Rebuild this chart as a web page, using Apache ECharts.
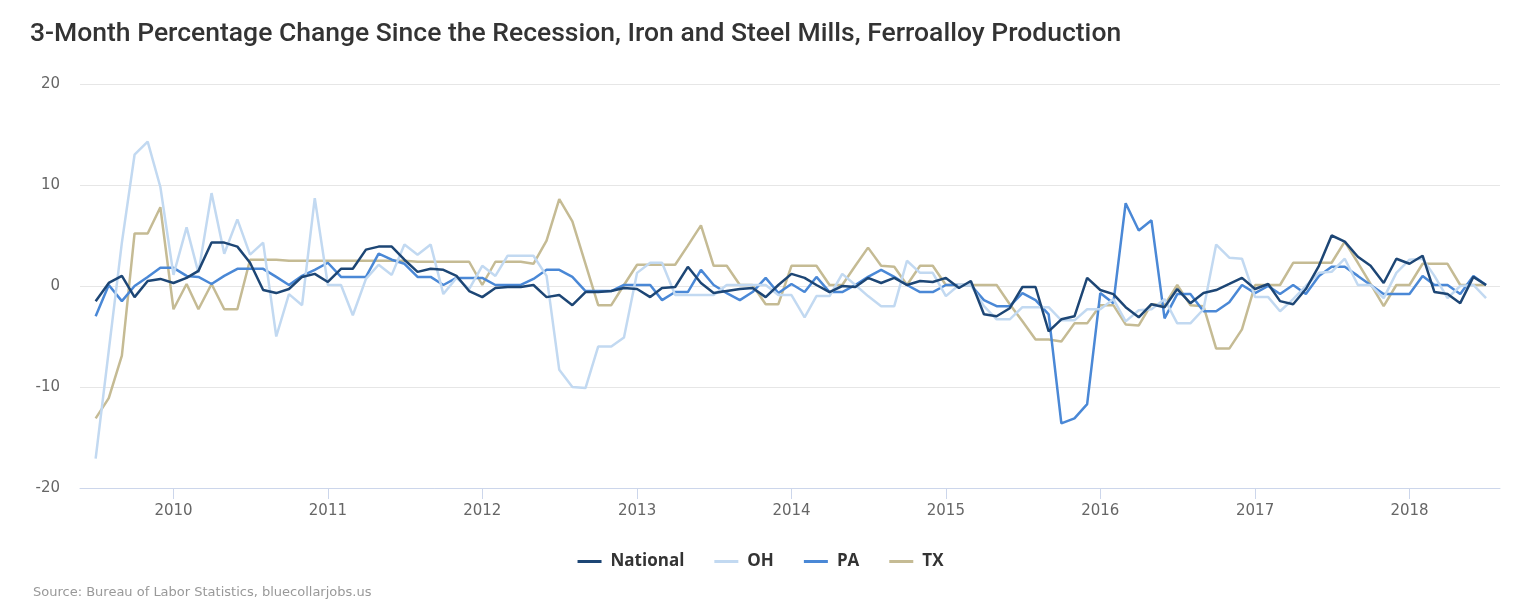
<!DOCTYPE html>
<html>
<head>
<meta charset="utf-8">
<script src="https://cdn.jsdelivr.net/npm/echarts@6/dist/echarts.min.js"></script>
<style>
    html, body { margin: 0; padding: 0; background: #fff; }
    #chart { width: 1521px; height: 613px; }
</style>
</head>
<body>
<div id="chart"></div>
<script>
// monthly points, Jul 2009 .. Jul 2018
var startYear = 2009, startMonth = 6, monthCount = 109;

var national = [
    -1.5, 0.3, 1.0, -1.1, 0.5, 0.7,
    0.3, 0.8, 1.5, 4.3, 4.3, 3.9, 2.3, -0.4, -0.7, -0.3, 0.9, 1.2,
    0.4, 1.7, 1.7, 3.6, 3.9, 3.9, 2.6, 1.4, 1.7, 1.6, 1.0, -0.5,
    -1.1, -0.2, -0.1, -0.1, 0.1, -1.1, -0.9, -1.9, -0.6, -0.6, -0.5, -0.2,
    -0.3, -1.1, -0.2, -0.1, 1.9, 0.3, -0.7, -0.5, -0.3, -0.2, -1.1, 0.1,
    1.2, 0.8, 0.1, -0.6, 0.0, -0.1, 0.8, 0.3, 0.8, 0.1, 0.5, 0.4,
    0.8, -0.2, 0.5, -2.8, -3.0, -2.2, -0.1, -0.1, -4.5, -3.3, -3.0, 0.8,
    -0.4, -0.8, -2.1, -3.1, -1.8, -2.1, -0.3, -1.7, -0.7, -0.4, 0.2, 0.8,
    -0.3, 0.2, -1.5, -1.8, -0.3, 2.0, 5.0, 4.4, 2.9, 2.0, 0.3, 2.7,
    2.2, 3.0, -0.6, -0.8, -1.7, 0.9, 0.1
];
var oh = [
    -17.1, -6.4, 4.3, 13.0, 14.3, 9.8,
    1.1, 5.8, 1.3, 9.2, 3.2, 6.6, 3.1, 4.3, -5.0, -0.8, -1.9, 8.7,
    0.1, 0.1, -2.9, 0.7, 2.1, 1.1, 4.1, 3.1, 4.1, -0.8, 0.8, -0.3,
    2.0, 1.0, 3.0, 3.0, 3.0, 1.0, -8.3, -10.0, -10.1, -6.0, -6.0, -5.1,
    1.3, 2.3, 2.3, -0.9, -0.9, -0.9, -0.9, 0.1, 0.1, 0.1, 0.1, -0.9,
    -0.9, -3.1, -1.0, -1.0, 1.2, 0.1, -1.0, -2.0, -2.0, 2.5, 1.3, 1.3,
    -1.0, 0.1, 0.1, -2.0, -3.3, -3.3, -2.1, -2.1, -2.1, -3.4, -3.4, -2.3,
    -2.3, -1.3, -3.5, -2.4, -2.3, -1.3, -3.7, -3.7, -2.3, 4.1, 2.8, 2.7,
    -1.1, -1.1, -2.5, -1.3, 0.0, 1.3, 1.4, 2.7, 0.1, 0.1, -1.2, 1.3,
    2.6, 2.7, 1.0, -1.2, 0.0, 0.1, -1.2
];
var pa = [
    -3.0, 0.1, -1.5, 0.0, 0.9, 1.8,
    1.8, 1.0, 0.9, 0.2, 1.0, 1.7, 1.7, 1.7, 0.9, 0.1, 1.0, 1.6,
    2.3, 0.9, 0.9, 0.9, 3.2, 2.6, 2.2, 0.9, 0.9, 0.1, 0.8, 0.8,
    0.8, 0.1, 0.1, 0.1, 0.7, 1.6, 1.6, 0.9, -0.5, -0.5, -0.5, 0.1,
    0.1, 0.1, -1.4, -0.6, -0.6, 1.6, 0.1, -0.7, -1.4, -0.6, 0.8, -0.7,
    0.2, -0.6, 0.9, -0.6, -0.6, 0.1, 0.9, 1.6, 0.9, 0.1, -0.6, -0.6,
    0.1, 0.1, 0.1, -1.4, -2.0, -2.0, -0.7, -1.4, -2.8, -13.6, -13.1, -11.7,
    -0.7, -1.7, 8.2, 5.5, 6.5, -3.2, -0.8, -0.8, -2.5, -2.5, -1.6, 0.1,
    -0.7, 0.0, -0.8, 0.1, -0.8, 1.0, 1.9, 1.9, 1.0, 0.1, -0.8, -0.8,
    -0.8, 1.0, 0.1, 0.1, -0.8, 1.0, 0.1
];
var tx = [
    -13.1, -11.1, -6.9, 5.2, 5.2, 7.8,
    -2.3, 0.2, -2.3, 0.2, -2.3, -2.3, 2.6, 2.6, 2.6, 2.5, 2.5, 2.5,
    2.5, 2.5, 2.5, 2.5, 2.5, 2.5, 2.5, 2.4, 2.4, 2.4, 2.4, 2.4,
    0.1, 2.4, 2.4, 2.4, 2.2, 4.5, 8.6, 6.4, 2.2, -1.9, -1.9, 0.1,
    2.1, 2.1, 2.1, 2.1, 4.0, 6.0, 2.0, 2.0, 0.1, 0.1, -1.8, -1.8,
    2.0, 2.0, 2.0, 0.1, 0.1, 2.0, 3.8, 2.0, 1.9, 0.1, 2.0, 2.0,
    0.1, 0.1, 0.1, 0.1, 0.1, -1.8, -3.5, -5.3, -5.3, -5.5, -3.7, -3.7,
    -1.9, -1.9, -3.8, -3.9, -1.8, -1.9, 0.1, -1.9, -2.0, -6.2, -6.2, -4.3,
    0.1, 0.1, 0.1, 2.3, 2.3, 2.3, 2.3, 4.4, 2.3, 0.2, -2.0, 0.1,
    0.1, 2.2, 2.2, 2.2, 0.1, 0.1, 0.1
];

var seriesNames = ["National", "OH", "PA", "TX"];
var seriesColors = ["#1d4675", "#c2d9f1", "#4a88d6", "#c5bb94"];
var yTicks = [-20, -10, 0, 10, 20];

var months = [];
for (var i = 0; i < monthCount; i++) {
    months.push(Date.UTC(startYear, startMonth + i, 1));
}

function pairUp(values) {
    return values.map((v, i) => [months[i], v]);
}

var chart = echarts.init(document.getElementById('chart'), null, { renderer: 'canvas' });
var allData = [national, oh, pa, tx];

var option = {
    animation: false,
    color: seriesColors,
    textStyle: { fontFamily: "'DejaVu Sans', sans-serif" },
    title: {
        text: '3-Month Percentage Change Since the Recession, Iron and Steel Mills, Ferroalloy Production',
        left: 25,
        top: 16,
        textStyle: { fontFamily: 'Roboto', fontWeight: 500, fontSize: 26.5, color: '#333333' }
    },
    legend: {
        bottom: 38,
        left: 'center',
        icon: 'rect',
        itemWidth: 24,
        itemHeight: 3,
        itemGap: 30,
        data: seriesNames,
        textStyle: { fontFamily: "'Open Sans', sans-serif", fontSize: 17, fontWeight: 'bold', color: '#333333', padding: [0, 0, 0, 4] }
    },
    graphic: [{
        type: 'text',
        left: 33,
        top: 586,
        style: {
            text: 'Source: Bureau of Labor Statistics, bluecollarjobs.us',
            fill: '#999999',
            fontSize: 13,
            fontFamily: "'DejaVu Sans', sans-serif"
        }
    }],
    grid: { left: 80, right: 21, top: 84, bottom: 125, containLabel: false },
    xAxis: {
        type: 'time',
        min: Date.UTC(2009, 4, 25),
        max: Date.UTC(2018, 7, 3),
        minInterval: 365 * 24 * 3600 * 1000,
        maxInterval: 366 * 24 * 3600 * 1000,
        axisLine: { onZero: false, lineStyle: { color: '#ccd6eb', width: 1 } },
        axisTick: { show: true, length: 11, lineStyle: { color: '#ccd6eb' } },
        axisLabel: { formatter: '{yyyy}', fontSize: 15, color: '#666666', margin: 16 },
        splitLine: { show: false }
    },
    yAxis: {
        type: 'value',
        min: yTicks[0],
        max: yTicks[yTicks.length - 1],
        interval: 10,
        axisLine: { show: false },
        axisTick: { show: false },
        axisLabel: { fontSize: 15, color: '#666666', margin: 20 },
        splitLine: { lineStyle: { color: '#e6e6e6', width: 1 } }
    },
    series: allData.map((vals, k) => ({
        name: seriesNames[k],
        type: 'line',
        data: pairUp(vals),
        showSymbol: false,
        symbol: 'none',
        lineStyle: { width: 2.5, color: seriesColors[k] },
        itemStyle: { color: seriesColors[k] },
        z: 10 - k
    }))
};

chart.setOption(option);
</script>
</body>
</html>
